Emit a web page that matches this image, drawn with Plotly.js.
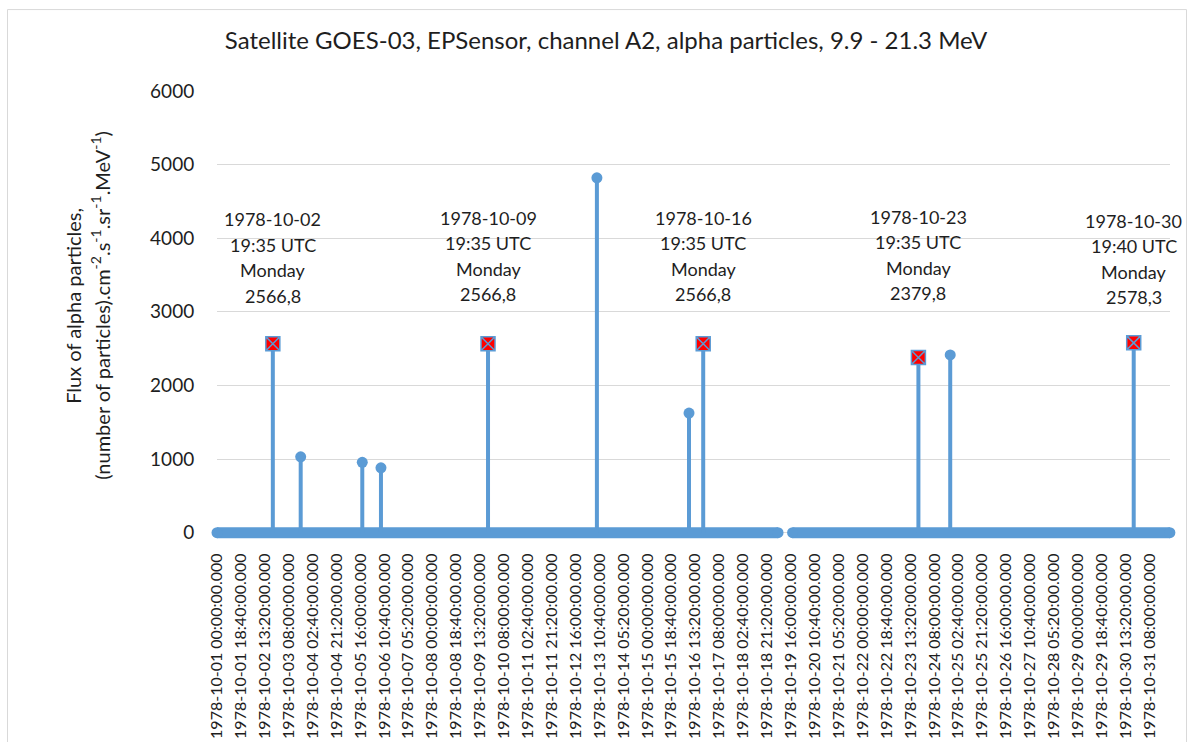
<!DOCTYPE html>
<html>
<head>
<meta charset="utf-8">
<script src="https://cdn.plot.ly/plotly-3.0.1.min.js"></script>
<style>html,body{margin:0;padding:0;background:#fff;}#chart{width:1193px;height:742px;}</style>
</head>
<body>
<div id="chart"></div>
<script>
// ---- data ----
const segmentStart = ['1978-10-01 00:00', '1978-10-19 17:20'];
const segmentEnd   = ['1978-10-19 06:00', '1978-10-31 23:55'];

const otherTimes  = ['1978-10-03 17:20', '1978-10-05 17:25', '1978-10-06 08:00', '1978-10-13 08:35', '1978-10-16 08:30', '1978-10-24 20:25'];
const otherValues = [1030, 955, 880, 4820, 1625, 2415];

const peakTimes   = ['1978-10-02 19:35', '1978-10-09 19:35', '1978-10-16 19:35', '1978-10-23 19:35', '1978-10-30 19:40'];
const peakValues  = [2566.8, 2566.8, 2566.8, 2379.8, 2578.3];
const peakDates   = ['1978-10-02', '1978-10-09', '1978-10-16', '1978-10-23', '1978-10-30'];
const peakUTC     = ['19:35 UTC', '19:35 UTC', '19:35 UTC', '19:35 UTC', '19:40 UTC'];
const peakDays    = ['Monday', 'Monday', 'Monday', 'Monday', 'Monday'];

const yTickValues = [0, 1000, 2000, 3000, 4000, 5000, 6000];

// ---- styling / layout ----
const BLUE = '#5b9bd5';
const FONT = 'Lato, "Open Sans", sans-serif';
const labelTopY = [4255, 4275, 4275, 4290, 4240];
const lineStep = 25.5;
const yMin = -100;                       // small pad so the baseline band is not clipped
const plotTop = 91, zeroPx = 533, pxPerUnit = 442 / 6000;
const plotBottom = zeroPx - yMin * pxPerUnit;

const traces = [];
segmentStart.forEach((s, i) => {
  traces.push({
    x: [s, segmentEnd[i]], y: [0, 0], type: 'scatter', mode: 'lines+markers',
    line: {color: BLUE, width: 11}, marker: {color: BLUE, size: 11, symbol: 'circle'},
    cliponaxis: false, hoverinfo: 'skip', showlegend: false
  });
});

function stems(times, vals) {
  const x = [], y = [];
  times.forEach((t, i) => { x.push(t, t, null); y.push(0, vals[i], null); });
  return {x, y};
}
const s1 = stems(otherTimes, otherValues);
const s2 = stems(peakTimes, peakValues);
traces.push({x: s1.x.concat(s2.x), y: s1.y.concat(s2.y), type: 'scatter', mode: 'lines',
  line: {color: BLUE, width: 4}, connectgaps: false, hoverinfo: 'skip', showlegend: false});
traces.push({x: otherTimes, y: otherValues, type: 'scatter', mode: 'markers',
  marker: {color: BLUE, size: 11, symbol: 'circle'}, showlegend: false});
traces.push({x: peakTimes, y: peakValues, type: 'scatter', mode: 'markers',
  marker: {color: '#ff0000', size: 14, symbol: 'square-x', line: {color: BLUE, width: 1.5}}, showlegend: false});

const annotations = [];
peakTimes.forEach((t, i) => {
  const lines = [peakDates[i], peakUTC[i], peakDays[i], peakValues[i].toFixed(1).replace('.', ',')];
  lines.forEach((txt, j) => {
    annotations.push({x: t, y: labelTopY[i], xref: 'x', yref: 'y', yshift: -lineStep * j,
      text: txt, showarrow: false, xanchor: 'center', yanchor: 'middle',
      font: {family: FONT, size: 18, color: '#1e1e1e'}});
  });
});
const plotH = plotBottom - plotTop;
const py2paper = py => (plotBottom - py) / plotH;
const px2paper = px => (px - 217) / 953;
// y-axis title (two lines)
annotations.push({xref: 'paper', yref: 'paper', x: px2paper(73), y: py2paper(306),
  text: 'Flux of alpha particles,', textangle: -90, showarrow: false, xanchor: 'center', yanchor: 'middle',
  font: {family: FONT, size: 20, color: '#1e1e1e'}});
annotations.push({xref: 'paper', yref: 'paper', x: px2paper(100), y: py2paper(306),
  text: '(number of particles).cm<sup>-2</sup>.s<sup>-1</sup>.sr<sup>-1</sup>.MeV<sup>-1</sup>)', textangle: -90,
  showarrow: false, xanchor: 'center', yanchor: 'middle',
  font: {family: FONT, size: 20, color: '#1e1e1e'}});

const layout = {
  width: 1193, height: 742,
  margin: {l: 217, r: 23, t: plotTop, b: 742 - plotBottom, pad: 0},
  paper_bgcolor: '#ffffff', plot_bgcolor: '#ffffff',
  title: {text: 'Satellite GOES-03, EPSensor, channel A2, alpha particles, 9.9 - 21.3 MeV',
    x: 606 / 1193, xref: 'container', xanchor: 'center', y: 1 - 41 / 742, yref: 'container', yanchor: 'middle',
    font: {family: FONT, size: 24, color: '#1e1e1e'}},
  xaxis: {
    type: 'date', range: ['1978-10-01 00:00', '1978-11-01 00:00'],
    tickmode: 'linear', tick0: '1978-10-01 00:00', dtick: 1120 * 60 * 1000,
    tickformat: '%Y-%m-%d %H:%M:%S.000', tickangle: -90,
    ticks: 'outside', ticklen: 6, tickcolor: 'rgba(0,0,0,0)',
    showgrid: false, zeroline: false, showline: false, automargin: false,
    tickfont: {family: FONT, size: 16, color: '#1e1e1e'}
  },
  yaxis: {
    range: [yMin, 6000], tickmode: 'array', tickvals: yTickValues, ticktext: yTickValues.map(String),
    showgrid: true, gridcolor: '#d9d9d9', gridwidth: 1, zeroline: false, showline: false,
    ticks: 'outside', ticklen: 18, tickcolor: 'rgba(0,0,0,0)', automargin: false,
    tickfont: {family: FONT, size: 19, color: '#1e1e1e'}
  },
  annotations: annotations,
  shapes: [{type: 'rect', xref: 'paper', yref: 'paper',
    x0: px2paper(7.5), x1: px2paper(1186.5), y0: py2paper(760), y1: py2paper(9.5),
    line: {color: '#d9d9d9', width: 1}, fillcolor: 'rgba(0,0,0,0)', layer: 'below'}],
  showlegend: false, hovermode: false
};

Plotly.newPlot('chart', traces, layout, {staticPlot: true, displayModeBar: false});
</script>
</body>
</html>
